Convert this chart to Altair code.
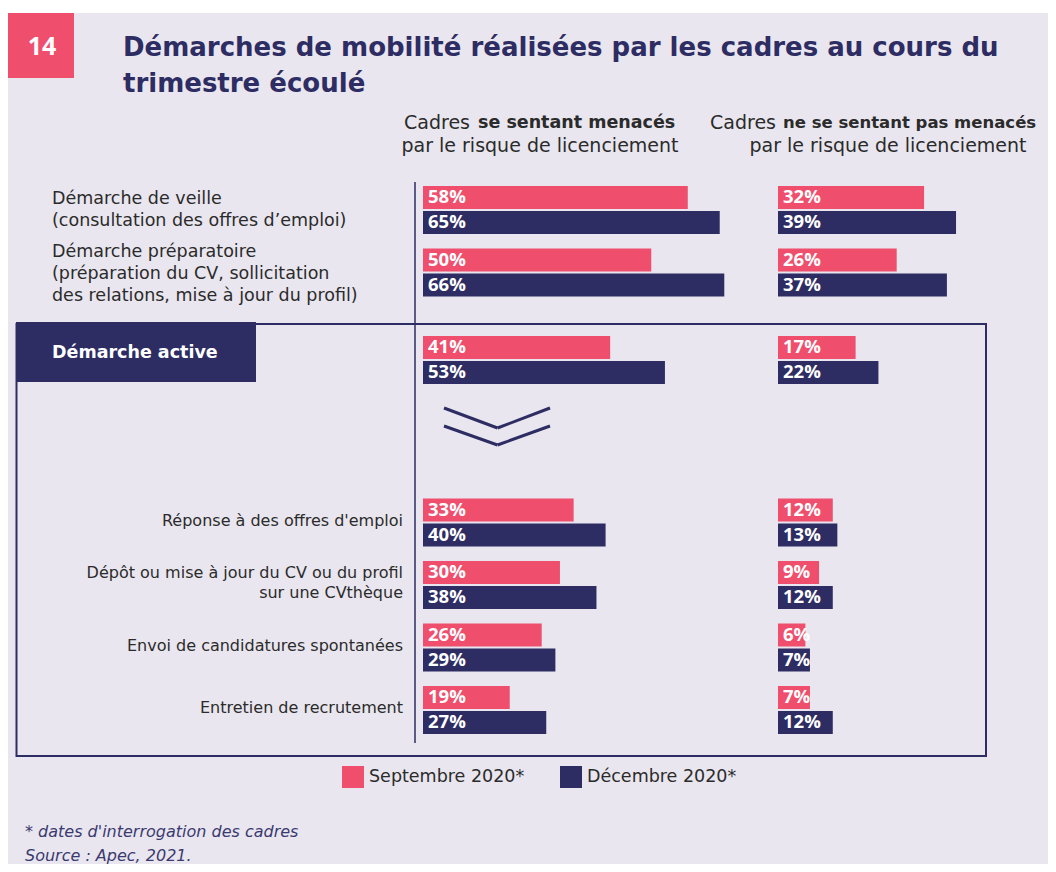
import altair as alt
import pandas as pd

# ---------------- data ----------------
keys = ["veille", "prepa", "active", "reponse", "depot", "envoi", "entretien"]
categories = [
    "Démarche de veille\n(consultation des offres d’emploi)",
    "Démarche préparatoire\n(préparation du CV, sollicitation\n des relations, mise à jour du profil)",
    "Démarche active",
    "Réponse à des offres d'emploi",
    "Dépôt ou mise à jour du CV ou du profil\nsur une CVthèque",
    "Envoi de candidatures spontanées",
    "Entretien de recrutement",
]
groups = ["top", "top", "active", "bottom", "bottom", "bottom", "bottom"]
series = ["Septembre 2020*", "Décembre 2020*"]
panels = ["menaces", "non_menaces"]
menaces_sept = [58, 50, 41, 33, 30, 26, 19]
menaces_dec = [65, 66, 53, 40, 38, 29, 27]
non_menaces_sept = [32, 26, 17, 12, 9, 6, 7]
non_menaces_dec = [39, 37, 22, 13, 12, 7, 12]

# ---------------- layout / style ----------------
W, H = 1040, 856
BG = "#E9E6EF"
PINK = "#EF4E6D"
NAVY = "#2E2D63"
TEXT = "#2B2B2B"
FONT = "DejaVu Sans"
NUMFONT = "Open Sans"

STEP = 12.5
R0 = 183.25
ROW_SLOT = [0, 5, 12, 25, 30, 35, 40]
N_SLOTS = 43
slot_names = [f"s{i:02d}" for i in range(N_SLOTS)]
yscale = alt.Scale(domain=slot_names, range=[R0, R0 + N_SLOTS * STEP],
                   paddingInner=0, paddingOuter=0)
PX100 = 456.5
panel_x0 = {"menaces": 415, "non_menaces": 770}

values = {
    "menaces": (menaces_sept, menaces_dec),
    "non_menaces": (non_menaces_sept, non_menaces_dec),
}

rows = []
for i, k in enumerate(keys):
    for p in panels:
        for j, s in enumerate(series):
            v = values[p][j][i]
            rows.append(dict(key=k, panel=p, series=s, value=v,
                             label=f"{v}%", zero=0,
                             slot=slot_names[ROW_SLOT[i] + 2 * j]))
bars_df = pd.DataFrame(rows)

lab_df = pd.DataFrame(dict(key=keys, category=categories, group=groups,
                           slot=[slot_names[s + 1] for s in ROW_SLOT]))

one = pd.DataFrame({"a": [0]})

cscale = alt.Scale(domain=series, range=[PINK, NAVY])
legend = alt.Legend(orient="none", legendX=334, legendY=758, direction="horizontal",
                    title=None, symbolType="square", symbolSize=484,
                    symbolStrokeWidth=0, symbolOpacity=1, labelFontSize=17.5,
                    labelFont=FONT, labelColor=TEXT, labelOffset=5,
                    columnPadding=35, padding=0)


def panel_layer(p):
    d = bars_df[bars_df.panel == p]
    x0 = panel_x0[p]
    xs = alt.Scale(domain=[0, 100], range=[x0, x0 + PX100])
    base = alt.Chart(d).encode(y=alt.Y("slot:N", scale=yscale, axis=None))
    b = base.mark_bar(height=23).encode(
        x=alt.X("value:Q", scale=xs, axis=None),
        color=alt.Color("series:N", scale=cscale, legend=legend),
    )
    t = base.mark_text(align="left", baseline="middle", dx=5, dy=-0.5, font=NUMFONT,
                       fontSize=18.5, fontWeight="bold", color="white").encode(
        x=alt.X("zero:Q", scale=xs, axis=None),
        text="label:N",
    )
    return alt.layer(b, t)


bg = alt.Chart(one).mark_rect(color=BG).encode(
    x=alt.value(0), x2=alt.value(W), y=alt.value(5), y2=alt.value(H))
badge = alt.Chart(one).mark_rect(color=PINK).encode(
    x=alt.value(0), x2=alt.value(66), y=alt.value(5), y2=alt.value(70))
badge_txt = alt.Chart(one).mark_text(text="14", font=NUMFONT, fontSize=25, fontWeight="bold",
                                     color="white", align="center", baseline="middle").encode(
    x=alt.value(34), y=alt.value(39))
title = alt.Chart(one).mark_text(
    text=["Démarches de mobilité réalisées par les cadres au cours du", "trimestre écoulé"],
    font=FONT, fontSize=26, fontWeight="bold", color=NAVY, align="left",
    baseline="alphabetic", lineHeight=36).encode(x=alt.value(115), y=alt.value(48))

reg_style = dict(font=FONT, fontSize=19, color=TEXT, baseline="middle")
bold_style = dict(font=FONT, color=TEXT, baseline="middle", fontWeight="bold")
h1a = alt.Chart(one).mark_text(text="Cadres", align="right", **reg_style).encode(
    x=alt.value(462), y=alt.value(115))
h1b = alt.Chart(one).mark_text(text="se sentant menacés", align="left", fontSize=17.5,
                               **bold_style).encode(x=alt.value(470), y=alt.value(115))
h1c = alt.Chart(one).mark_text(text="par le risque de licenciement", align="center",
                               **reg_style).encode(x=alt.value(532), y=alt.value(138))
h2a = alt.Chart(one).mark_text(text="Cadres", align="right", **reg_style).encode(
    x=alt.value(768), y=alt.value(115))
h2b = alt.Chart(one).mark_text(text="ne se sentant pas menacés", align="left", fontSize=16.5,
                               **bold_style).encode(x=alt.value(775), y=alt.value(115))
h2c = alt.Chart(one).mark_text(text="par le risque de licenciement", align="center",
                               **reg_style).encode(x=alt.value(880), y=alt.value(138))

box = alt.Chart(one).mark_rect(filled=False, stroke=NAVY, strokeWidth=2).encode(
    x=alt.value(8.5), x2=alt.value(978), y=alt.value(316), y2=alt.value(748))
dark = alt.Chart(one).mark_rect(color=NAVY).encode(
    x=alt.value(8), x2=alt.value(248), y=alt.value(314), y2=alt.value(374))
axis_line = alt.Chart(one).mark_rule(color=NAVY, strokeWidth=1.5).encode(
    x=alt.value(407), y=alt.value(174), y2=alt.value(735))

chev = []
for (ya, yb) in [(400, 420), (418, 437)]:
    chev.append(alt.Chart(one).mark_rule(color=NAVY, strokeWidth=3).encode(
        x=alt.value(436), y=alt.value(ya), x2=alt.value(489.5), y2=alt.value(yb)))
    chev.append(alt.Chart(one).mark_rule(color=NAVY, strokeWidth=3).encode(
        x=alt.value(489.5), y=alt.value(yb), x2=alt.value(542), y2=alt.value(ya)))

lab_df["nlines"] = lab_df["category"].str.count("\n") + 1


def label_layers(group, align, x, size, lh, adj):
    out = []
    d = lab_df[lab_df.group == group]
    for n in sorted(d.nlines.unique()):
        dn = d[d.nlines == n]
        out.append(alt.Chart(dn).mark_text(
            align=align, baseline="middle", font=FONT, fontSize=size, color=TEXT,
            lineBreak="\n", lineHeight=lh, dy=-(n - 1) * lh / 2 + adj[n]).encode(
            x=alt.value(x), y=alt.Y("slot:N", scale=yscale, axis=None),
            text="category:N"))
    return out


top_labels = label_layers("top", "left", 44, 17.5, 22, {2: 0, 3: 1.5})
bottom_labels = label_layers("bottom", "right", 395, 16, 20, {1: -2, 2: -2})
active_label = alt.Chart(lab_df[lab_df.group == "active"]).mark_text(
    align="left", baseline="middle", font=FONT, fontSize=17.5, fontWeight="bold",
    color="white", dy=-7).encode(
    x=alt.value(44), y=alt.Y("slot:N", scale=yscale, axis=None), text="category:N")

foot_style = dict(font=FONT, fontSize=16, fontStyle="italic", color="#3B3A70",
                  align="left", baseline="middle")
foot1 = alt.Chart(one).mark_text(text="* dates d'interrogation des cadres",
                                 **foot_style).encode(x=alt.value(17), y=alt.value(824))
foot2 = alt.Chart(one).mark_text(text="Source : Apec, 2021.", **foot_style).encode(
    x=alt.value(17), y=alt.value(848))

chart = alt.layer(
    bg, badge, badge_txt, title, h1a, h1b, h1c, h2a, h2b, h2c,
    box, dark, axis_line, *chev,
    panel_layer("menaces"), panel_layer("non_menaces"),
    *top_labels, active_label, *bottom_labels, foot1, foot2,
).resolve_scale(x="independent").properties(
    width=W, height=H, autosize=alt.AutoSizeParams(type="none"), padding=0,
    background="white",
).configure_view(stroke="transparent")

chart.save("out.html", embed_options={"renderer": "svg", "actions": False})
